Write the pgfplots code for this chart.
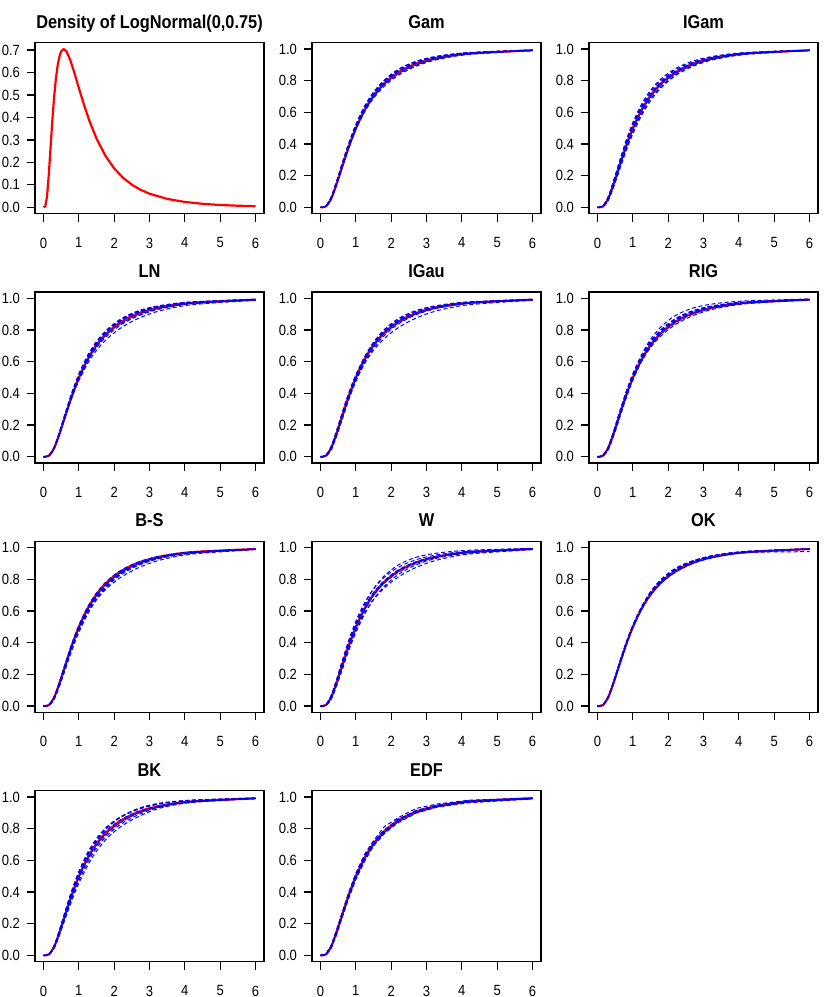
\documentclass[border=0pt]{standalone}
\usepackage{fontspec}
\setmainfont{Liberation Sans}[FakeStretch=0.88]
\usepackage{pgfplots}
\pgfplotsset{compat=1.18}
\usepackage{pgfplotstable}

\definecolor{rred}{RGB}{255,0,0}
\definecolor{rblue}{RGB}{0,0,255}

\pgfplotsset{
  rpanel/.style={
    scale only axis, width=114.5pt, height=85.5pt, anchor=north west,
    xmin=-0.24, xmax=6.24, ymin=-0.04, ymax=1.04,
    xtick={0,1,2,3,4,5,6}, ytick={0,0.2,0.4,0.6,0.8,1},
    xtick pos=bottom, ytick pos=left, tick align=outside,
    major tick length=4pt,
    axis line style={line width=0.7pt},
    every tick/.style={black, line width=0.6pt},
    tick label style={font=\fontsize{7.4}{8}\selectfont},
    /pgf/number format/assume math mode=true,
    yticklabel style={/pgf/number format/fixed, /pgf/number format/fixed zerofill, /pgf/number format/precision=1},
    xticklabel style={yshift=-4.5pt},
    title style={font=\bfseries\fontsize{9.3}{10}\selectfont, at={(0.5,1)}, anchor=base, inner sep=0pt, yshift=1.3pt},
  },
  truecurve/.style={rred, line width=1.1pt, smooth, no markers},
  estcurve/.style={rblue, line width=0.5pt, dash pattern=on 2pt off 1.3pt, smooth, no markers},
}

% true LogNormal(0,0.75) cdf
\pgfplotstableread{
x t
0 0
0.15 0.006
0.3 0.054
0.45 0.144
0.6 0.248
0.8 0.383
1.0 0.500
1.25 0.617
1.5 0.706
1.8 0.783
2.2 0.853
2.7 0.907
3.3 0.944
4.2 0.972
6 0.992
}\truecdf

% estimates lying close to the true curve
\pgfplotstableread{
x g h
0 0 0
0.15 .006 .005
0.3 .056 .050
0.45 .149 .138
0.6 .255 .240
0.8 .392 .371
1.0 .510 .491
1.25 .627 .609
1.5 .715 .697
1.8 .791 .775
2.2 .859 .844
2.7 .911 .900
3.3 .947 .939
4.2 .974 .970
6 .992 .991
}\nearcdf

\pgfplotstableread{
x a b c d e f
0 0 0 0 0 0 0
0.15 .007 .006 .009 .006 .005 .006
0.3 .060 .055 .066 .056 .052 .053
0.45 .156 .146 .163 .148 .140 .142
0.6 .266 .252 .270 .253 .243 .244
0.8 .405 .390 .404 .387 .379 .376
1.0 .524 .510 .518 .502 .498 .490
1.25 .641 .631 .630 .615 .619 .603
1.5 .728 .723 .715 .700 .712 .689
1.8 .802 .802 .789 .774 .793 .764
2.2 .868 .872 .857 .842 .865 .834
2.7 .918 .923 .909 .897 .918 .891
3.3 .951 .955 .945 .937 .952 .933
4.2 .976 .978 .972 .968 .976 .966
6 .993 .994 .992 .991 .994 .990
}\gam

\pgfplotstableread{
x a b c d e f
0 0 0 0 0 0 0
0.15 .008 .004 .007 .005 .009 .003
0.3 .063 .045 .060 .048 .066 .042
0.45 .162 .126 .156 .132 .163 .125
0.6 .275 .221 .266 .230 .270 .226
0.8 .416 .350 .405 .361 .404 .362
1.0 .536 .464 .524 .476 .518 .482
1.25 .653 .581 .641 .593 .630 .604
1.5 .739 .673 .728 .684 .715 .697
1.8 .812 .755 .802 .764 .789 .777
2.2 .876 .831 .868 .838 .857 .849
2.7 .924 .891 .918 .896 .909 .905
3.3 .955 .934 .951 .937 .945 .943
4.2 .978 .966 .976 .968 .972 .972
6 .994 .991 .993 .991 .992 .992
}\igam

\pgfplotstableread{
x a b c d e f
0 0 0 0 0 0 0
0.15 .006 .006 .006 .006 .007 .005
0.3 .055 .053 .052 .056 .060 .052
0.45 .146 .142 .140 .148 .156 .140
0.6 .252 .244 .240 .253 .266 .243
0.8 .390 .376 .369 .387 .405 .379
1.0 .510 .490 .480 .502 .524 .498
1.25 .631 .603 .589 .615 .641 .619
1.5 .723 .689 .672 .700 .728 .712
1.8 .802 .764 .745 .774 .802 .793
2.2 .872 .834 .815 .842 .868 .865
2.7 .923 .891 .875 .897 .918 .918
3.3 .955 .933 .922 .937 .951 .952
4.2 .978 .966 .960 .968 .976 .976
6 .994 .990 .988 .991 .993 .994
}\lnorm

\pgfplotstableread{
x a b c d e f
0 0 0 0 0 0 0
0.15 .006 .003 .005 .006 .009 .005
0.3 .052 .042 .048 .055 .066 .052
0.45 .140 .125 .132 .146 .163 .140
0.6 .240 .226 .230 .252 .270 .243
0.8 .369 .362 .361 .390 .404 .379
1.0 .480 .482 .476 .510 .518 .498
1.25 .589 .604 .593 .631 .630 .619
1.5 .672 .697 .684 .723 .715 .712
1.8 .745 .777 .764 .802 .789 .793
2.2 .815 .849 .838 .872 .857 .865
2.7 .875 .905 .896 .923 .909 .918
3.3 .922 .943 .937 .955 .945 .952
4.2 .960 .972 .968 .978 .972 .976
6 .988 .992 .991 .994 .992 .994
}\igau

\pgfplotstableread{
x a b c d e f
0 0 0 0 0 0 0
0.15 .006 .006 .005 .007 .006 .003
0.3 .056 .055 .052 .060 .053 .042
0.45 .148 .146 .140 .156 .142 .125
0.6 .256 .252 .243 .266 .244 .226
0.8 .397 .390 .379 .405 .376 .362
1.0 .520 .510 .498 .524 .490 .482
1.25 .645 .631 .619 .641 .603 .604
1.5 .740 .723 .712 .728 .689 .697
1.8 .821 .802 .793 .802 .764 .777
2.2 .891 .872 .865 .868 .834 .849
2.7 .939 .923 .918 .918 .891 .905
3.3 .966 .955 .952 .951 .933 .943
4.2 .984 .978 .976 .976 .966 .972
6 .996 .994 .994 .993 .990 .992
}\rig

\pgfplotstableread{
x a b c d e f
0 0 0 0 0 0 0
0.15 .005 .006 .003 .006 .004 .006
0.3 .048 .053 .042 .052 .045 .056
0.45 .132 .142 .125 .140 .126 .148
0.6 .230 .244 .226 .240 .221 .253
0.8 .361 .376 .362 .369 .350 .387
1.0 .476 .490 .482 .480 .464 .502
1.25 .593 .603 .604 .589 .581 .615
1.5 .684 .689 .697 .672 .673 .700
1.8 .764 .764 .777 .745 .755 .774
2.2 .838 .834 .849 .815 .831 .842
2.7 .896 .891 .905 .875 .891 .897
3.3 .937 .933 .943 .922 .934 .937
4.2 .968 .966 .972 .960 .966 .968
6 .991 .990 .992 .988 .991 .991
}\bs

\pgfplotstableread{
x a b c d e f
0 0 0 0 0 0 0
0.15 .008 .004 .006 .006 .009 .003
0.3 .063 .045 .056 .052 .066 .042
0.45 .162 .126 .148 .140 .163 .125
0.6 .275 .221 .256 .240 .270 .226
0.8 .416 .350 .397 .369 .404 .362
1.0 .536 .464 .520 .480 .518 .482
1.25 .653 .581 .645 .589 .630 .604
1.5 .739 .673 .740 .672 .715 .697
1.8 .812 .755 .821 .745 .789 .777
2.2 .876 .831 .891 .815 .857 .849
2.7 .924 .891 .939 .875 .909 .905
3.3 .955 .934 .966 .922 .945 .943
4.2 .978 .966 .984 .960 .972 .972
6 .994 .991 .996 .988 .992 .992
}\weib

\pgfplotstableread{
x a b c d e f
0 0 0 0 0 0 0
0.15 .007 .005 .006 .006 .007 .005
0.3 .058 .050 .056 .052 .057 .053
0.45 .150 .140 .146 .142 .149 .141
0.6 .258 .246 .252 .244 .255 .250
0.8 .392 .380 .390 .378 .385 .386
1.0 .505 .498 .504 .496 .503 .499
1.25 .628 .612 .622 .624 .614 .619
1.5 .722 .700 .716 .718 .704 .711
1.8 .800 .776 .798 .790 .785 .779
2.2 .866 .846 .870 .858 .862 .848
2.7 .915 .902 .918 .913 .917 .904
3.3 .950 .940 .948 .951 .952 .947
4.2 .976 .968 .970 .977 .974 .975
6 .993 .990 .975 .992 .993 .994
}\ok

\pgfplotstableread{
x a b c d e f
0 0 0 0 0 0 0
0.15 .007 .004 .005 .006 .005 .006
0.3 .062 .044 .048 .058 .050 .056
0.45 .160 .126 .134 .152 .138 .148
0.6 .272 .222 .232 .262 .240 .256
0.8 .412 .346 .360 .402 .372 .394
1.0 .530 .455 .472 .522 .488 .512
1.25 .650 .568 .588 .640 .602 .632
1.5 .738 .658 .678 .730 .690 .723
1.8 .814 .740 .757 .808 .768 .804
2.2 .878 .815 .830 .874 .842 .876
2.7 .925 .878 .890 .924 .900 .930
3.3 .958 .930 .936 .957 .940 .962
4.2 .980 .966 .968 .978 .970 .981
6 .994 .990 .991 .993 .992 .994
}\bk

\pgfplotstableread{
x a b c d e f
0 0 0 0 0 0 0
0.15 .008 .004 .006 .005 .007 .003
0.3 .062 .046 .058 .050 .055 .044
0.45 .150 .138 .160 .132 .146 .128
0.6 .240 .254 .262 .236 .250 .230
0.8 .392 .374 .400 .370 .386 .360
1.0 .496 .510 .520 .488 .498 .478
1.25 .632 .610 .640 .600 .626 .596
1.5 .712 .698 .724 .700 .716 .690
1.8 .792 .776 .812 .770 .786 .768
2.2 .846 .864 .870 .838 .860 .850
2.7 .917 .900 .928 .898 .908 .912
3.3 .944 .952 .956 .936 .948 .942
4.2 .978 .968 .980 .964 .974 .972
6 .992 .990 .995 .988 .993 .991
}\edf

% col, row, title, table, extra options for the estimates
\newcommand{\cdfpanel}[5]{%
\begin{axis}[rpanel, at={(#1*138.5pt,-#2*124.67pt)}, title={#3}]
\addplot[truecurve] table[x=x,y=t]{\truecdf};
\addplot[estcurve,#5] table[x=x,y=a]{#4};
\addplot[estcurve,#5] table[x=x,y=b]{#4};
\addplot[estcurve,#5] table[x=x,y=c]{#4};
\addplot[estcurve,#5] table[x=x,y=d]{#4};
\addplot[estcurve,#5] table[x=x,y=e]{#4};
\addplot[estcurve,#5] table[x=x,y=f]{#4};
\addplot[estcurve,#5] table[x=x,y=g]{\nearcdf};
\addplot[estcurve,#5,dash phase=1.5pt] table[x=x,y=h]{\nearcdf};
\end{axis}}

\begin{document}
\begin{tikzpicture}
\path[use as bounding box] (-17.5pt,21.35pt) rectangle (397.5pt,-477.15pt);

\begin{axis}[rpanel, at={(0pt,0pt)}, ymin=-0.0282, ymax=0.7329,
  ytick={0,0.1,0.2,0.3,0.4,0.5,0.6,0.7},
  title={Density of LogNormal(0,0.75)}]
\addplot[rred, line width=1.1pt, line join=round, no markers] coordinates {
(0,0) (0.05,0.0037) (0.1,0.0478) (0.15,0.1447) (0.2,0.2660) (0.25,0.3854)
(0.3,0.4888) (0.35,0.5706) (0.4,0.6305) (0.45,0.6706) (0.5,0.6940)
(0.57,0.7047) (0.65,0.6939) (0.75,0.6589) (0.85,0.6113) (1.0,0.5319)
(1.15,0.4546) (1.3,0.3849) (1.5,0.3064) (1.75,0.2301) (2.0,0.1735)
(2.25,0.1318) (2.5,0.1009) (2.75,0.0779) (3.0,0.0607) (3.5,0.0377)
(4.0,0.0241) (4.5,0.0158) (5.0,0.0106) (5.5,0.0073) (6.0,0.0051)};
\end{axis}

\cdfpanel{1}{0}{Gam}{\gam}{}
\cdfpanel{2}{0}{IGam}{\igam}{}
\cdfpanel{0}{1}{LN}{\lnorm}{}
\cdfpanel{1}{1}{IGau}{\igau}{}
\cdfpanel{2}{1}{RIG}{\rig}{}
\cdfpanel{0}{2}{B-S}{\bs}{}
\cdfpanel{1}{2}{W}{\weib}{}
\cdfpanel{2}{2}{OK}{\ok}{}
\cdfpanel{0}{3}{BK}{\bk}{}
\cdfpanel{1}{3}{EDF}{\edf}{sharp plot}
\end{tikzpicture}
\end{document}
